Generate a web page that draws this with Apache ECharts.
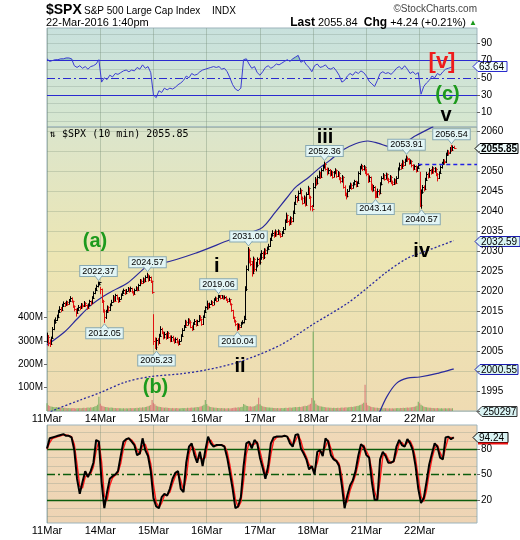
<!DOCTYPE html>
<html>
<head>
<meta charset="utf-8">
<script src="https://cdn.jsdelivr.net/npm/echarts@6.0.0/dist/echarts.min.js"></script>
<style>
html,body{margin:0;padding:0;background:#ffffff;}
#chart{width:520px;height:540px;}
</style>
</head>
<body>
<div id="chart"></div>
<script>
// ---------- DATA ----------
const dayLabels = ['11Mar','14Mar','15Mar','16Mar','17Mar','18Mar','21Mar','22Mar'];
const barsPerDay = 39;
const axisSlots = 316;

const priceClose = [
2008.5,2007.0,2006.8,2008.2,2010.5,2012.2,2012.8,2013.5,2014.8,2015.6,2015.2,2016.3,2016.9,
2016.5,2017.2,2016.8,2017.6,2018.3,2017.5,2016.2,2015.4,2014.6,2015.3,2016.0,2015.7,2016.6,
2016.2,2017.0,2016.4,2015.8,2016.5,2017.4,2016.9,2018.2,2019.5,2020.3,2021.2,2021.8,2022.2,
2020.4,2017.5,2015.0,2013.4,2014.8,2015.9,2015.2,2016.4,2017.3,2018.5,2017.6,2018.9,2018.2,
2017.4,2018.0,2019.0,2019.6,2020.2,2019.4,2020.1,2020.6,2020.0,2020.7,2019.8,2019.3,2020.2,
2020.8,2020.3,2021.4,2022.6,2022.1,2023.0,2022.4,2023.5,2024.0,2022.8,2023.4,2022.5,2019.7,
2007.5,2006.0,2007.8,2007.0,2008.8,2010.5,2009.6,2008.4,2009.3,2008.2,2009.5,2008.6,2007.6,
2008.5,2007.8,2007.2,2008.0,2007.3,2006.7,2007.6,2008.8,2010.2,2011.0,2012.3,2011.6,2012.8,
2012.2,2011.1,2010.4,2011.8,2012.6,2011.5,2012.4,2013.6,2012.9,2011.7,2013.5,2014.8,2015.9,
2016.8,2015.9,2016.7,2017.3,2016.6,2017.8,2018.2,2017.6,2018.5,2018.9,2018.3,2018.7,2018.2,
2018.6,2017.9,2017.4,2017.9,2016.8,2015.2,2013.4,2012.6,2011.8,2010.6,2011.5,2011.0,2011.9,
2012.3,2013.0,2020.5,2025.6,2030.2,2027.4,2026.8,2024.5,2028.0,2025.4,2026.6,2028.0,2027.2,
2028.5,2029.6,2028.4,2030.2,2029.5,2030.6,2031.3,2032.8,2033.9,2034.6,2033.8,2034.9,2034.2,
2035.0,2034.3,2033.8,2034.6,2035.5,2037.4,2038.9,2037.6,2036.8,2038.2,2037.4,2039.6,2041.8,
2043.5,2042.7,2044.6,2045.3,2043.2,2042.1,2043.4,2041.6,2044.2,2045.8,2043.5,2041.2,2040.6,
2046.0,2047.8,2046.9,2048.4,2049.6,2048.5,2050.2,2051.0,2051.8,2050.6,2049.4,2050.3,2049.1,
2049.8,2048.6,2049.5,2050.2,2048.8,2049.6,2048.2,2047.4,2048.6,2046.1,2044.2,2043.8,2045.1,
2045.9,2046.6,2045.8,2046.8,2047.4,2046.3,2047.0,2049.4,2050.8,2051.3,2050.4,2051.0,2049.6,
2049.2,2047.6,2048.4,2046.5,2045.2,2046.0,2044.8,2043.6,2045.1,2044.4,2046.7,2048.2,2049.0,
2048.1,2049.2,2048.0,2047.4,2048.6,2047.2,2046.7,2047.8,2047.1,2048.3,2050.4,2051.6,2050.8,
2052.3,2051.5,2052.6,2053.3,2052.9,2052.1,2052.5,2051.4,2050.6,2051.2,2050.1,2050.8,2051.6,
2041.6,2044.8,2046.0,2045.4,2047.8,2049.3,2048.6,2050.2,2049.6,2050.8,2049.9,2050.6,2049.2,
2048.3,2049.5,2050.9,2051.8,2052.6,2052.2,2054.1,2054.8,2054.5,2055.6,2055.2,2056.1,2055.85
];
const priceHigh = [
2009.6,2009.0,2007.9,2008.6,2011.0,2012.9,2013.4,2014.1,2015.3,2016.2,2016.0,2016.8,2017.4,
2017.2,2017.6,2017.5,2018.0,2018.7,2018.4,2017.6,2016.4,2015.6,2015.8,2016.5,2016.3,2017.0,
2016.9,2017.5,2017.2,2016.6,2016.9,2017.8,2017.6,2018.7,2019.9,2020.8,2021.6,2022.37,2022.3,
2021.0,2020.6,2017.8,2015.4,2015.3,2016.4,2016.2,2016.9,2017.8,2019.0,2018.7,2019.3,2019.1,
2018.4,2018.5,2019.4,2020.1,2020.6,2020.4,2020.5,2021.0,2020.8,2021.1,2020.8,2020.0,2020.6,
2021.2,2021.0,2021.8,2023.0,2022.9,2023.4,2023.2,2023.9,2024.57,2024.2,2023.8,2023.6,2022.6,
2014.2,2008.4,2008.3,2008.2,2009.3,2011.2,2010.8,2009.9,2009.8,2009.5,2010.0,2009.8,2008.9,
2008.9,2008.8,2008.1,2008.4,2008.3,2007.6,2008.0,2009.2,2010.7,2011.5,2012.8,2012.6,2013.2,
2013.1,2012.5,2011.4,2012.2,2013.0,2012.8,2012.8,2014.0,2013.9,2013.1,2013.9,2015.2,2016.2,
2017.6,2017.0,2017.1,2017.7,2017.5,2018.2,2018.6,2018.4,2019.06,2019.0,2019.0,2019.0,2018.9,
2018.9,2018.7,2018.1,2018.3,2018.0,2016.9,2015.3,2013.6,2012.8,2012.0,2011.9,2011.8,2012.3,
2012.7,2013.8,2021.2,2026.4,2031.0,2030.6,2028.3,2027.5,2028.6,2028.3,2027.3,2028.4,2028.3,
2029.4,2030.2,2029.9,2030.7,2030.6,2031.1,2031.8,2033.3,2034.4,2035.2,2034.9,2035.4,2035.1,
2035.4,2035.2,2034.6,2035.0,2036.0,2037.9,2039.6,2039.1,2037.9,2038.7,2038.5,2040.1,2042.3,
2044.0,2043.8,2045.1,2045.8,2045.4,2043.6,2043.9,2043.6,2044.7,2046.3,2045.9,2043.8,2041.5,
2047.0,2048.5,2048.1,2048.9,2050.1,2049.8,2050.7,2051.5,2052.36,2052.0,2050.9,2050.8,2050.5,
2050.2,2050.0,2050.0,2050.7,2050.4,2050.0,2049.8,2048.5,2049.0,2048.7,2046.4,2044.6,2045.5,
2046.4,2047.1,2046.9,2047.2,2047.8,2047.6,2047.4,2049.9,2051.3,2051.8,2051.5,2051.5,2051.2,
2050.6,2049.4,2048.9,2048.6,2046.8,2046.5,2046.2,2045.0,2045.6,2045.4,2047.2,2048.7,2049.5,
2049.2,2049.6,2049.4,2048.3,2049.0,2048.8,2047.6,2048.2,2048.0,2048.7,2050.9,2052.1,2051.9,
2052.8,2052.6,2053.1,2053.91,2053.6,2053.2,2052.9,2052.7,2051.7,2051.6,2051.4,2051.2,2052.0,
2049.8,2045.4,2046.5,2046.4,2048.3,2049.8,2049.6,2050.7,2050.5,2051.2,2051.0,2051.0,2050.8,
2049.5,2049.9,2051.4,2052.3,2053.0,2052.9,2054.6,2055.3,2055.2,2056.0,2056.54,2056.4,2056.3
];
const priceLow = [
2006.9,2006.2,2006.0,2006.5,2008.0,2010.2,2011.8,2012.5,2013.2,2014.5,2014.7,2015.0,2016.0,
2016.0,2016.3,2016.4,2016.6,2017.4,2017.1,2015.8,2014.9,2013.6,2014.3,2015.0,2015.2,2015.5,
2015.8,2016.0,2016.0,2015.3,2015.6,2016.3,2016.4,2016.8,2018.0,2019.2,2020.0,2020.9,2021.4,
2019.2,2017.0,2014.6,2012.05,2013.0,2014.5,2014.8,2015.0,2016.2,2017.1,2017.2,2017.5,2017.8,
2017.0,2017.2,2017.9,2018.8,2019.4,2019.0,2019.2,2019.9,2019.6,2019.8,2019.4,2018.8,2019.1,
2020.0,2019.9,2020.1,2021.2,2021.7,2021.9,2022.0,2022.2,2023.2,2022.3,2022.5,2022.0,2019.3,
2006.5,2005.5,2005.23,2006.4,2006.8,2008.5,2009.2,2007.9,2008.1,2007.8,2008.0,2008.2,2007.2,
2007.3,2007.4,2006.8,2007.0,2006.9,2006.3,2006.5,2007.4,2008.6,2010.0,2010.8,2011.2,2011.4,
2011.8,2010.7,2010.0,2010.2,2011.5,2011.1,2011.3,2012.2,2012.5,2011.3,2011.5,2013.3,2014.6,
2015.3,2015.4,2015.7,2016.5,2016.2,2016.5,2017.6,2017.2,2017.5,2018.3,2017.9,2018.1,2017.8,
2017.9,2017.5,2017.0,2017.2,2016.4,2014.8,2013.0,2012.1,2011.2,2010.04,2010.3,2010.6,2010.8,
2011.6,2011.9,2012.8,2020.0,2025.0,2026.9,2026.2,2023.6,2024.2,2024.8,2024.9,2025.9,2026.6,
2026.6,2027.8,2027.8,2028.0,2029.0,2029.2,2030.2,2031.0,2032.5,2033.6,2033.3,2033.6,2033.8,
2034.0,2033.9,2033.3,2033.6,2034.3,2035.2,2037.0,2037.0,2036.3,2036.6,2036.9,2037.2,2039.3,
2041.5,2042.1,2042.5,2044.2,2042.7,2041.6,2041.9,2041.1,2041.4,2044.0,2043.0,2040.1,2039.9,
2041.0,2045.6,2046.3,2046.6,2048.1,2048.0,2048.3,2049.9,2050.6,2050.1,2048.9,2049.2,2048.6,
2048.8,2048.1,2048.4,2049.2,2048.3,2048.5,2047.7,2046.9,2047.1,2045.6,2043.7,2042.9,2043.4,
2044.8,2045.5,2045.3,2045.6,2046.4,2045.9,2046.0,2046.8,2049.0,2050.4,2050.0,2050.1,2049.2,
2048.7,2047.0,2047.2,2045.1,2044.7,2044.9,2043.14,2043.3,2043.4,2043.9,2044.2,2046.4,2047.9,
2047.6,2047.9,2047.5,2046.9,2047.2,2046.7,2046.3,2046.5,2046.6,2046.9,2048.1,2050.1,2050.3,
2050.6,2051.0,2051.3,2052.3,2052.4,2051.6,2051.7,2050.9,2050.1,2050.3,2049.6,2049.9,2050.5,
2041.0,2040.57,2044.3,2044.9,2045.2,2047.5,2048.1,2048.4,2049.1,2049.4,2049.4,2049.6,2048.7,
2047.4,2048.0,2049.3,2050.6,2051.5,2051.7,2052.0,2053.8,2054.0,2054.3,2054.8,2055.0,2055.5
];
// volume per 10-min bar, millions
const volumeM = [
33,25,21,19,18,17,16,17,15,14,15,14,13,14,13,12,13,12,12,13,12,11,12,12,13,12,13,14,13,14,15,14,16,15,17,19,21,27,61,
31,23,20,18,17,16,15,14,15,14,13,13,12,13,12,12,11,12,11,12,11,12,13,12,13,12,13,14,13,15,14,16,15,17,18,20,22,26,47,
35,29,23,20,18,17,16,15,14,15,14,13,13,12,13,12,12,13,12,11,12,13,12,13,12,14,13,14,15,14,15,16,17,16,18,20,23,27,47,
30,22,19,17,16,15,14,14,13,13,12,13,12,12,11,12,12,11,12,13,14,15,14,16,15,17,18,30,27,23,21,19,20,18,19,21,24,29,57,
29,23,20,18,17,16,15,15,14,14,13,13,12,13,12,12,13,12,13,14,13,14,15,14,15,16,17,16,17,18,17,19,20,22,21,24,27,31,56,
340,45,31,25,22,20,19,18,17,16,15,15,14,14,13,14,13,13,14,13,14,15,14,15,16,15,16,17,18,17,19,20,21,23,25,27,31,35,112,
35,25,21,19,17,16,15,14,14,13,13,12,12,13,12,12,11,12,11,12,11,12,12,13,12,13,13,14,13,14,15,14,15,16,17,18,20,23,40,
33,27,22,19,17,16,15,14,14,13,13,12,12,13,12,11,12,11,12,12,11,12,12,11,12,0.25
];
// indicator readings, one every rsiStep bars
const rsiStep = 2;
const rsiValues = [
72,69,70,71,71,72,72,73,73,72,64,62,64,61,63,60,63,64,66,71,
45,50,48,53,51,55,54,56,58,59,57,59,58,62,60,65,61,63,56,30,
27,35,33,38,36,38,37,39,42,44,47,52,50,55,53,54,57,59,60,61,
62,63,62,63,60,61,57,50,42,37,35,38,71,72,66,61,63,56,53,57,
62,64,61,63,66,65,67,69,71,69,72,74,76,68,70,65,62,57,64,66,
62,63,65,61,60,62,58,53,45,47,52,55,53,57,55,58,56,52,46,43,
40,47,55,57,55,56,54,57,61,63,60,64,60,55,57,54,56,31,40,44,
47,52,50,55,53,57,60,61,62,63.64
];
const stochK = [
81,93,94,95,96,97,98,96,96,94,79,45,27,41,54,47,54,64,91,89,
41,10,29,45,48,50,54,72,89,92,93,89,85,73,75,93,79,72,54,22,
12,10,23,27,25,33,45,52,54,33,29,64,83,87,73,64,77,60,79,95,
87,83,85,85,85,83,70,52,33,10,12,23,60,87,89,81,91,87,70,58,
45,60,87,94,95,95,95,96,95,87,83,97,98,81,75,68,56,60,50,77,
79,72,93,89,73,68,66,60,37,10,25,37,43,54,72,86,83,73,70,41,
20,20,68,77,72,64,64,66,83,91,85,83,92,87,79,60,33,16,22,41,
62,75,87,83,70,68,94,95,92,94.24
];
const stochD = [
80,88,93,94,95,96,97,97,96,95,86,62,36,34,47,50,51,59,78,90,
65,25,19,37,46,49,52,63,81,91,93,91,87,79,74,84,86,76,63,38,
17,11,16,25,26,29,39,48,53,43,31,46,74,85,80,68,70,68,70,88,
91,85,84,85,85,84,77,61,42,21,11,17,42,74,88,85,86,89,78,64,
51,52,74,90,94,95,95,96,95,91,85,90,97,90,78,71,62,58,55,64,
78,76,83,91,81,70,67,63,48,22,17,31,40,49,63,79,85,78,71,55,
30,20,44,72,75,68,64,65,75,87,88,84,88,90,83,69,46,24,18,31,
52,69,81,85,76,69,82,94,94,93
];
// overlay lines: [bar index, value]
const overlaySolid = [[0,2006.5],[13,2009.8],[22,2013.0],[32,2016.4],[40,2018.4],[48,2020.0],[59,2022.0],[71,2025.6],[76,2026.9],[86,2027.1],[110,2029.6],[134,2032.8],[156,2035.5],[160,2036.6],[167,2039.6],[175,2043.0],[182,2045.9],[192,2048.5],[199,2050.6],[207,2052.6],[216,2055.1],[226,2056.8],[235,2057.5],[243,2056.9],[251,2056.1],[258,2056.5],[265,2057.7],[270,2058.8],[283,2061.1]];
const overlayDotted = [[0,1989.4],[5,1990.2],[24,1992.7],[39,1994.6],[58,1997.3],[76,1998.6],[98,1999.3],[117,2000.3],[141,2002.3],[171,2006.5],[195,2011.7],[220,2016.9],[234,2020.6],[249,2024.8],[264,2028.2],[273,2029.4],[298,2032.59]];
const overlayLong = [[243,1989.2],[249,1993.6],[256,1996.9],[264,1998.2],[273,1998.5],[286,1999.4],[298,2000.55]];
// price callouts: [bar index, price]
const calloutHighs = [[37,2022.37],[73,2024.57],[125,2019.06],[147,2031.00],[203,2052.36],[263,2053.91],[296,2056.54]];
const calloutLows = [[42,2012.05],[80,2005.23],[139,2010.04],[240,2043.14],[274,2040.57]];
const prevClose = 2051.60;
const prevCloseFrom = 272;
const lastPrice = 2055.85;
const lastDotted = 2032.59;
const lastLong = 2000.55;
const lastVolume = 250297;
const lastRsi = 63.64;
const lastStoch = 94.24;
const rsiTicks = [10,30,50,70,90];
const stochTicks = [20,50,80];
const volTicks = [100,200,300,400];
const hiddenPriceTicks = [1990, 2000, 2055];

// ---------- CHART ----------
const FONT = "'Liberation Sans', Arial, sans-serif";
const chart = echarts.init(document.getElementById('chart'));
const cats = Array.from({length: axisSlots}, (_, i) => String(i));
const isDay = i => i % barsPerDay === 0 && i / barsPerDay < dayLabels.length;
const barUp = priceClose.map((c, i) => i === 0 ? true : c >= priceClose[i - 1]);
const rsiX = rsiValues.map((_, k) => k * rsiStep);

function xAxisFor(gi, showLabels) {
  return {
    type: 'category', gridIndex: gi, data: cats, boundaryGap: false,
    axisLine: {show: false}, axisTick: {show: false},
    axisLabel: {show: showLabels, interval: (i) => isDay(i),
      formatter: (v, i) => isDay(i) ? dayLabels[i / barsPerDay] : '',
      color: '#000', fontSize: 11, fontFamily: FONT, margin: 2},
    splitLine: {show: true, interval: (i) => isDay(i), lineStyle: {color: 'rgba(110,135,110,0.35)', width: 1}}
  };
}
const lin = (a, b) => ({type: 'linear', x: 0, y: 0, x2: 0, y2: 1, colorStops: [{offset: 0, color: a}, {offset: 1, color: b}]});
const gridBase = {show: true, borderColor: '#9cb3bb', borderWidth: 1};

function levelLines(vals, style) {
  return vals.map(v => ({yAxis: v, lineStyle: style}));
}
const faint = {color: 'rgba(120,140,130,0.28)', width: 1, type: 'solid'};

function renderHLC(params, api) {
  const i = api.value(0);
  const top = api.coord([i, api.value(1)]);
  const bot = api.coord([i, api.value(2)]);
  const cl = api.coord([i, api.value(3)]);
  const col = api.value(4) ? '#000000' : '#e01010';
  const x = Math.round(top[0]) + 0.5;
  const yc = Math.round(cl[1]) + 0.5;
  return {type: 'group', children: [
    {type: 'line', shape: {x1: x, y1: top[1], x2: x, y2: bot[1]}, style: {stroke: col, lineWidth: 1}},
    {type: 'line', shape: {x1: x, y1: yc, x2: x + 2, y2: yc}, style: {stroke: col, lineWidth: 1}}
  ]};
}
function renderCallout(params, api) {
  const i = api.value(0), p = api.value(1), dir = api.value(2);
  const pt = api.coord([i, p]);
  const x = Math.round(pt[0]) + 0.5, y = pt[1];
  const s = dir > 0 ? -1 : 1;
  const fill = '#e2f5f5', stroke = '#88a9b3';
  return {type: 'group', children: [
    {type: 'text', x: x, y: y + s * 10.5, style: {text: p.toFixed(2), font: '9px ' + FONT, fill: '#000',
      align: 'center', verticalAlign: 'middle', backgroundColor: fill, borderColor: stroke, borderWidth: 1, padding: [1, 2, 0, 2]}},
    {type: 'polygon', shape: {points: [[x, y + s * 1], [x - 4, y + s * 6], [x + 4, y + s * 6]]}, style: {fill: fill}},
    {type: 'polyline', shape: {points: [[x - 4, y + s * 6], [x, y + s * 1], [x + 4, y + s * 6]]}, style: {stroke: stroke, fill: null, lineWidth: 1}}
  ]};
}

const option = {
  animation: false,
  backgroundColor: '#ffffff',
  grid: [
    Object.assign({left: 47, top: 28, width: 430, height: 99, backgroundColor: lin('#c8e1dd', '#d7e7cf')}, gridBase),
    Object.assign({left: 47, top: 127, width: 430, height: 284, backgroundColor: {type: 'linear', x: 0, y: 0, x2: 0, y2: 1,
      colorStops: [{offset: 0, color: '#dbe5cc'}, {offset: 0.45, color: '#ece6b4'}, {offset: 1, color: '#efdbb2'}]}}, gridBase),
    Object.assign({left: 47, top: 425, width: 430, height: 98, backgroundColor: lin('#f0d9b8', '#eed4b4')}, gridBase)
  ],
  xAxis: [xAxisFor(0, false), xAxisFor(1, true), xAxisFor(2, true)],
  yAxis: [
    {gridIndex: 0, type: 'value', min: -7, max: 107.7, position: 'right', axisLine: {show: false}, splitLine: {show: false},
      axisLabel: {customValues: rsiTicks, color: '#000', fontSize: 10, fontFamily: FONT, margin: 4},
      axisTick: {show: true, customValues: rsiTicks, length: 3, lineStyle: {color: '#666'}}},
    {gridIndex: 1, type: 'value', min: 1990, max: 2061, interval: 5, position: 'right', axisLine: {show: false},
      splitLine: {show: true, lineStyle: {color: 'rgba(120,140,120,0.28)'}},
      axisLabel: {formatter: v => hiddenPriceTicks.indexOf(v) >= 0 ? '' : String(v), color: '#000', fontSize: 10, fontFamily: FONT, margin: 4},
      axisTick: {show: true, length: 3, lineStyle: {color: '#666'}}},
    {gridIndex: 1, type: 'value', min: 0, max: 1217, interval: 100, position: 'left', axisLine: {show: false}, splitLine: {show: false},
      axisLabel: {formatter: v => (v > 0 && v <= 400) ? v + 'M' : '', color: '#000', fontSize: 10, fontFamily: FONT, margin: 4},
      axisTick: {show: true, customValues: volTicks, length: 3, lineStyle: {color: '#666'}}},
    {gridIndex: 2, type: 'value', min: -7.6, max: 108.8, position: 'right', axisLine: {show: false}, splitLine: {show: false},
      axisLabel: {customValues: stochTicks, color: '#000', fontSize: 10, fontFamily: FONT, margin: 4},
      axisTick: {show: true, customValues: stochTicks, length: 3, lineStyle: {color: '#666'}}}
  ],
  series: [
    {type: 'line', xAxisIndex: 0, yAxisIndex: 0, stack: 'rsi', symbol: 'none', silent: true,
      lineStyle: {width: 0, opacity: 0}, data: rsiX.map(x => [x, 70]), z: 1},
    {type: 'line', xAxisIndex: 0, yAxisIndex: 0, stack: 'rsi', symbol: 'none', silent: true,
      lineStyle: {width: 0, opacity: 0}, areaStyle: {color: 'rgba(70,160,150,0.6)'},
      data: rsiValues.map((v, k) => [rsiX[k], Math.max(v - 70, 0)]), z: 1},
    {type: 'line', xAxisIndex: 0, yAxisIndex: 0, symbol: 'none', silent: true, z: 3,
      lineStyle: {color: '#3c3cd2', width: 1},
      data: rsiValues.map((v, k) => [rsiX[k], v]),
      markLine: {silent: true, symbol: 'none', label: {show: false}, z: 2,
        data: levelLines([0, 10, 20, 40, 60, 80, 90, 100], faint)
          .concat(levelLines([70, 30], {color: '#2a2ad0', width: 1.2, type: 'solid'}))
          .concat(levelLines([50], {color: '#2a2ad0', width: 1.2, type: [8, 3, 2, 3]}))}},
    {type: 'bar', xAxisIndex: 1, yAxisIndex: 2, barWidth: 1.2, silent: true, z: 2,
      data: volumeM.map((v, i) => ({value: [i, v], itemStyle: {color: barUp[i] ? 'rgba(112,172,90,0.8)' : 'rgba(214,112,112,0.8)'}}))},
    {type: 'line', xAxisIndex: 1, yAxisIndex: 1, symbol: 'none', silent: true, smooth: 0.3, z: 3,
      lineStyle: {color: '#2828a0', width: 1.3, type: [2, 2]}, data: overlayDotted},
    {type: 'line', xAxisIndex: 1, yAxisIndex: 1, symbol: 'none', silent: true, smooth: 0.3, z: 3,
      lineStyle: {color: '#2a2a9c', width: 1.2}, data: overlayLong},
    {type: 'line', xAxisIndex: 1, yAxisIndex: 1, symbol: 'none', silent: true, smooth: 0.3, z: 3,
      lineStyle: {color: '#2a2a9c', width: 1.2}, data: overlaySolid,
      markLine: {silent: true, symbol: 'none', label: {show: false},
        data: [[{coord: [prevCloseFrom, prevClose]}, {coord: [axisSlots - 1, prevClose]}]],
        lineStyle: {color: '#2020e6', width: 1.4, type: [4, 3]}}},
    {type: 'custom', xAxisIndex: 1, yAxisIndex: 1, silent: true, z: 4, renderItem: renderHLC,
      encode: {x: 0, y: [1, 2, 3]},
      data: priceClose.map((c, i) => [i, priceHigh[i], priceLow[i], c, barUp[i] ? 1 : 0])},
    {type: 'custom', xAxisIndex: 1, yAxisIndex: 1, silent: true, z: 6, clip: false, renderItem: renderCallout,
      encode: {x: 0, y: 1},
      data: calloutHighs.map(d => [d[0], d[1], 1]).concat(calloutLows.map(d => [d[0], d[1], -1]))},
    {type: 'line', xAxisIndex: 2, yAxisIndex: 3, symbol: 'none', silent: true, z: 3,
      lineStyle: {color: '#ff1a1a', width: 1.4}, data: stochD.map((v, k) => [rsiX[k], v]),
      markLine: {silent: true, symbol: 'none', label: {show: false}, z: 2,
        data: levelLines([0, 10, 30, 40, 60, 70, 90, 100], faint)
          .concat(levelLines([80, 20], {color: '#0c5c0c', width: 1.3, type: 'solid'}))
          .concat(levelLines([50], {color: '#0c5c0c', width: 1.3, type: [8, 3, 2, 3]}))}},
    {type: 'line', xAxisIndex: 2, yAxisIndex: 3, symbol: 'none', silent: true, z: 4,
      lineStyle: {color: '#000000', width: 2}, data: stochK.map((v, k) => [rsiX[k], v])}
  ]
};
chart.setOption(option);

// ---------- value boxes and annotations ----------
const pxY = (axisIdx, v) => chart.convertToPixel({yAxisIndex: axisIdx}, v);
function valueBox(y, text, o) {
  const yc = Math.round(y) + 0.5, x0 = o.x0, w = o.w, h = 10;
  const kids = [
    {type: 'polygon', shape: {points: [[x0, yc], [x0 + 5, yc - h / 2], [x0 + 5 + w, yc - h / 2], [x0 + 5 + w, yc + h / 2], [x0 + 5, yc + h / 2]]},
      style: {fill: o.fill, stroke: o.stroke, lineWidth: 1}},
    {type: 'text', x: x0 + 6, y: yc + 0.5, style: {text: text, font: (o.bold ? 'bold ' : '') + '10px ' + FONT, fill: '#000', align: 'left', verticalAlign: 'middle'}}
  ];
  if (o.under) kids.push({type: 'line', shape: {x1: x0 + 5, y1: yc + h / 2 + 1, x2: x0 + 5 + w, y2: yc + h / 2 + 1}, style: {stroke: o.under, lineWidth: 2}});
  return {type: 'group', z: 100, children: kids};
}
function label(x, y, text, font, color, align) {
  return {type: 'text', x: x, y: y, z: 100, style: {text: text, font: font, fill: color, align: align || 'center', verticalAlign: 'middle'}};
}
const greenWave = '#1d9a1d';
const graphics = [
  label(46, 10.5, '$SPX', 'bold 14px ' + FONT, '#000', 'left'),
  label(84, 11, 'S&P 500 Large Cap Index', '10px ' + FONT, '#000', 'left'),
  label(212, 11, 'INDX', '10px ' + FONT, '#000', 'left'),
  label(477, 9, '\u00A9StockCharts.com', '10px ' + FONT, '#444', 'right'),
  label(46, 22.5, '22-Mar-2016 1:40pm', '11px ' + FONT, '#000', 'left'),
  {type: 'text', x: 477, y: 22.5, z: 100, style: {text: '{b|Last} 2055.84  {b|Chg} +4.24 (+0.21%) {g|\u25B2}',
    font: '11px ' + FONT, fill: '#000', align: 'right', verticalAlign: 'middle',
    rich: {b: {font: 'bold 12px ' + FONT, fill: '#000'}, g: {font: '8px ' + FONT, fill: '#1a9a1a'}}}},
  label(50, 134, '\u21C5 $SPX (10 min) 2055.85', "10px 'DejaVu Sans Mono', monospace", '#000', 'left'),
  label(95, 241, '(a)', 'bold 20px ' + FONT, greenWave),
  label(155.5, 387, '(b)', 'bold 20px ' + FONT, greenWave),
  label(447.5, 94, '(c)', 'bold 20px ' + FONT, greenWave),
  label(442, 61.5, '[v]', 'bold 22px ' + FONT, '#ee1c1c'),
  label(216.7, 266, 'i', 'bold 20px ' + FONT, '#000'),
  label(240, 366, 'ii', 'bold 20px ' + FONT, '#000'),
  label(325, 137.5, 'iii', 'bold 20px ' + FONT, '#000'),
  label(421.7, 251, 'iv', 'bold 20px ' + FONT, '#000'),
  label(446, 115.5, 'v', 'bold 20px ' + FONT, '#000'),
  valueBox(pxY(1, lastPrice), lastPrice.toFixed(2), {x0: 475, w: 38, fill: '#eefbfb', stroke: '#000', bold: true}),
  valueBox(pxY(1, lastDotted), lastDotted.toFixed(2), {x0: 475, w: 40, fill: '#d9f3f3', stroke: '#1c1cb0'}),
  valueBox(pxY(1, lastLong), lastLong.toFixed(2), {x0: 475, w: 38, fill: '#d9f3f3', stroke: '#1c1cb0'}),
  valueBox(pxY(2, lastVolume / 1e6), String(lastVolume), {x0: 477, w: 35, fill: '#d9f3f3', stroke: '#333'}),
  valueBox(pxY(0, lastRsi), lastRsi.toFixed(2), {x0: 473, w: 29, fill: '#f2fdfd', stroke: '#2a2acc'}),
  valueBox(pxY(3, lastStoch), lastStoch.toFixed(2), {x0: 473, w: 30, fill: '#d9f3f3', stroke: '#000', under: '#ee1111'})
];
chart.setOption({graphic: graphics});
</script>
</body>
</html>
